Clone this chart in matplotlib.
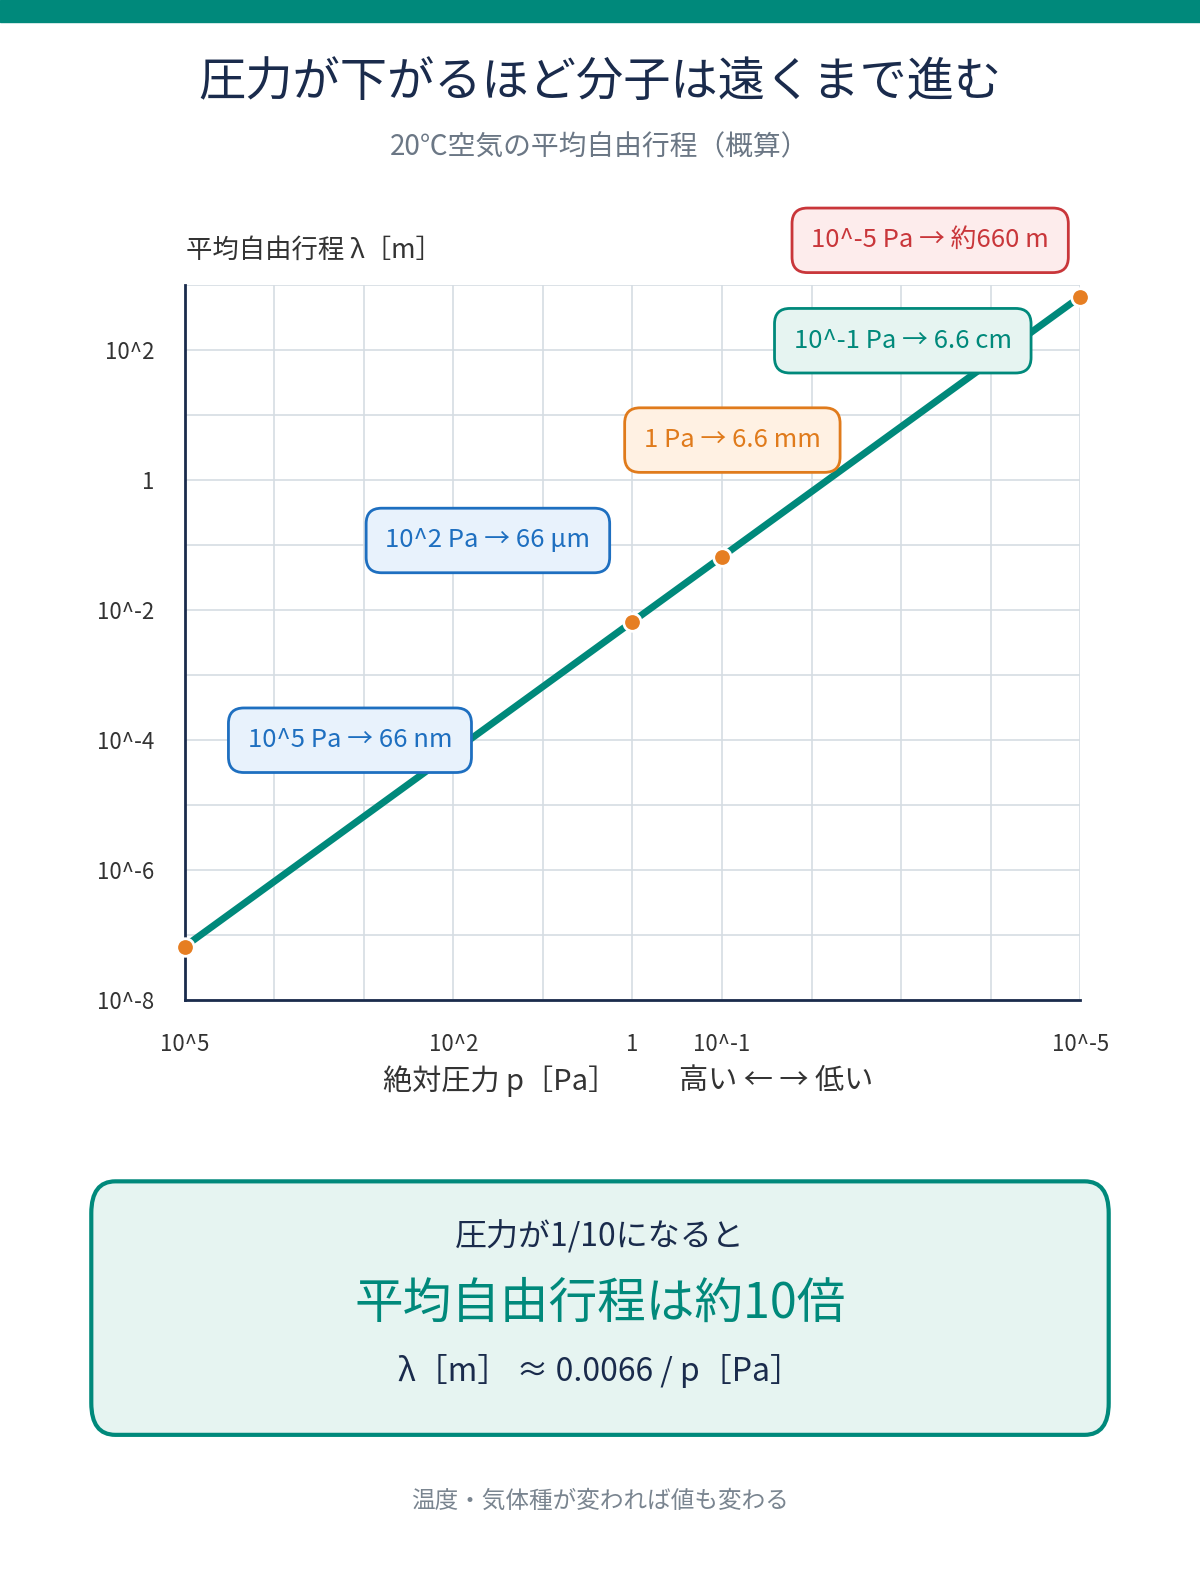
import numpy as np
import matplotlib
matplotlib.use("Agg")
import matplotlib.pyplot as plt
from matplotlib.patches import FancyBboxPatch, Rectangle
from matplotlib.ticker import NullFormatter

plt.rcParams['font.family'] = ['Noto Sans CJK JP', 'DejaVu Sans']

# data
pressure = [1e5, 1e4, 1e3, 1e2, 1e1, 1, 1e-1, 1e-2, 1e-3, 1e-4, 1e-5]
mfp = [6.6e-8, 6.6e-7, 6.6e-6, 6.6e-5, 6.6e-4, 6.6e-3, 6.6e-2, 6.6e-1, 6.6, 66, 660]
marker_p = [1e5, 1, 1e-1, 1e-5]
marker_l = [6.6e-8, 6.6e-3, 6.6e-2, 660]
xticks = [1e5, 1e2, 1, 1e-1, 1e-5]
xticklabels = ["10^5", "10^2", "1", "10^-1", "10^-5"]
yticks = [1e2, 1, 1e-2, 1e-4, 1e-6, 1e-8]
yticklabels = ["10^2", "1", "10^-2", "10^-4", "10^-6", "10^-8"]
callouts = [
    ("10^-5 Pa → 約660 m", 917, 237, "#c9363a", "#fdecec"),
    ("10^-1 Pa → 6.6 cm", 890, 336, "#00897b", "#e6f4f1"),
    ("1 Pa → 6.6 mm", 722, 434, "#e07b1c", "#fff1e3"),
    ("10^2 Pa → 66 μm", 481, 533, "#1e6fc0", "#e8f2fc"),
    ("10^5 Pa → 66 nm", 345, 730, "#1e6fc0", "#e8f2fc"),
]

W, H = 1183, 1568
teal = "#00897b"
navy = "#1a2b4c"
fig = plt.figure(figsize=(12, 15.9), dpi=100)

def fx(px): return px / W
def fy(py): return 1 - py / H

fig.add_artist(Rectangle((0, fy(22)), 1, 22 / H, transform=fig.transFigure, color=teal))
fig.text(0.5, fy(82), "圧力が下がるほど分子は遠くまで進む", ha="center", va="center", fontsize=34, color=navy)
fig.text(0.5, fy(145), "20℃空気の平均自由行程（概算）", ha="center", va="center", fontsize=20, color="#6b7785")

ax = fig.add_axes([fx(182), fy(986), fx(1065) - fx(182), (986 - 281) / H])
ax.plot(pressure, mfp, color=teal, lw=5, zorder=3)
ax.scatter(marker_p, marker_l, s=160, color="#e67e22", edgecolor="white", lw=2, zorder=4, clip_on=False)
ax.set_xscale("log")
ax.set_yscale("log")
ax.set_xlim(1e5, 1e-5)
ax.set_ylim(1e-8, 1e3)
ax.set_xticks([10.0 ** k for k in range(-5, 6)], minor=True)
ax.set_yticks([10.0 ** k for k in range(-8, 4)], minor=True)
ax.xaxis.set_minor_formatter(NullFormatter())
ax.yaxis.set_minor_formatter(NullFormatter())
ax.set_xticks(xticks)
ax.set_xticklabels(xticklabels)
ax.set_yticks(yticks)
ax.set_yticklabels(yticklabels)
ax.tick_params(which="both", length=0, labelsize=16, colors="#333333")
ax.tick_params(axis="x", pad=24)
ax.tick_params(axis="y", pad=22)
ax.grid(True, which="both", color="#d5dde3", lw=1.2)
for s in ["top", "right"]:
    ax.spines[s].set_visible(False)
ax.spines["left"].set_color(navy)
ax.spines["bottom"].set_color(navy)
ax.spines["left"].set_linewidth(2)
ax.spines["bottom"].set_linewidth(2)

fig.text(fx(183), fy(247), "平均自由行程 λ［m］", ha="left", va="center", fontsize=19, color="#333333")
fig.text(fx(493), fy(1066), "絶対圧力 p［Pa］", ha="center", va="center", fontsize=21, color="#333333")
fig.text(fx(765), fy(1066), "高い ← → 低い", ha="center", va="center", fontsize=21, color="#333333")

for txt, x, y, ec, fc in callouts:
    fig.text(fx(x), fy(y), txt, ha="center", va="center", fontsize=18.5, color=ec, zorder=10,
             bbox=dict(boxstyle="round,pad=0.75,rounding_size=0.6", fc=fc, ec=ec, lw=2))

fig.add_artist(FancyBboxPatch((fx(90), fy(1415)), fx(1003), 250 / H,
                              boxstyle="round,pad=0,rounding_size=0.02", transform=fig.transFigure,
                              fc="#e6f4f1", ec=teal, lw=3))
fig.text(0.5, fy(1220), "圧力が1/10になると", ha="center", va="center", fontsize=23, color=navy)
fig.text(0.5, fy(1286), "平均自由行程は約10倍", ha="center", va="center", fontsize=35, color=teal)
fig.text(0.5, fy(1352), "λ［m］ ≈ 0.0066 / p［Pa］", ha="center", va="center", fontsize=23, color=navy)
fig.text(0.5, fy(1481), "温度・気体種が変われば値も変わる", ha="center", va="center", fontsize=17, color="#7a8590")

fig.savefig("out.png", dpi=100, facecolor="white")
